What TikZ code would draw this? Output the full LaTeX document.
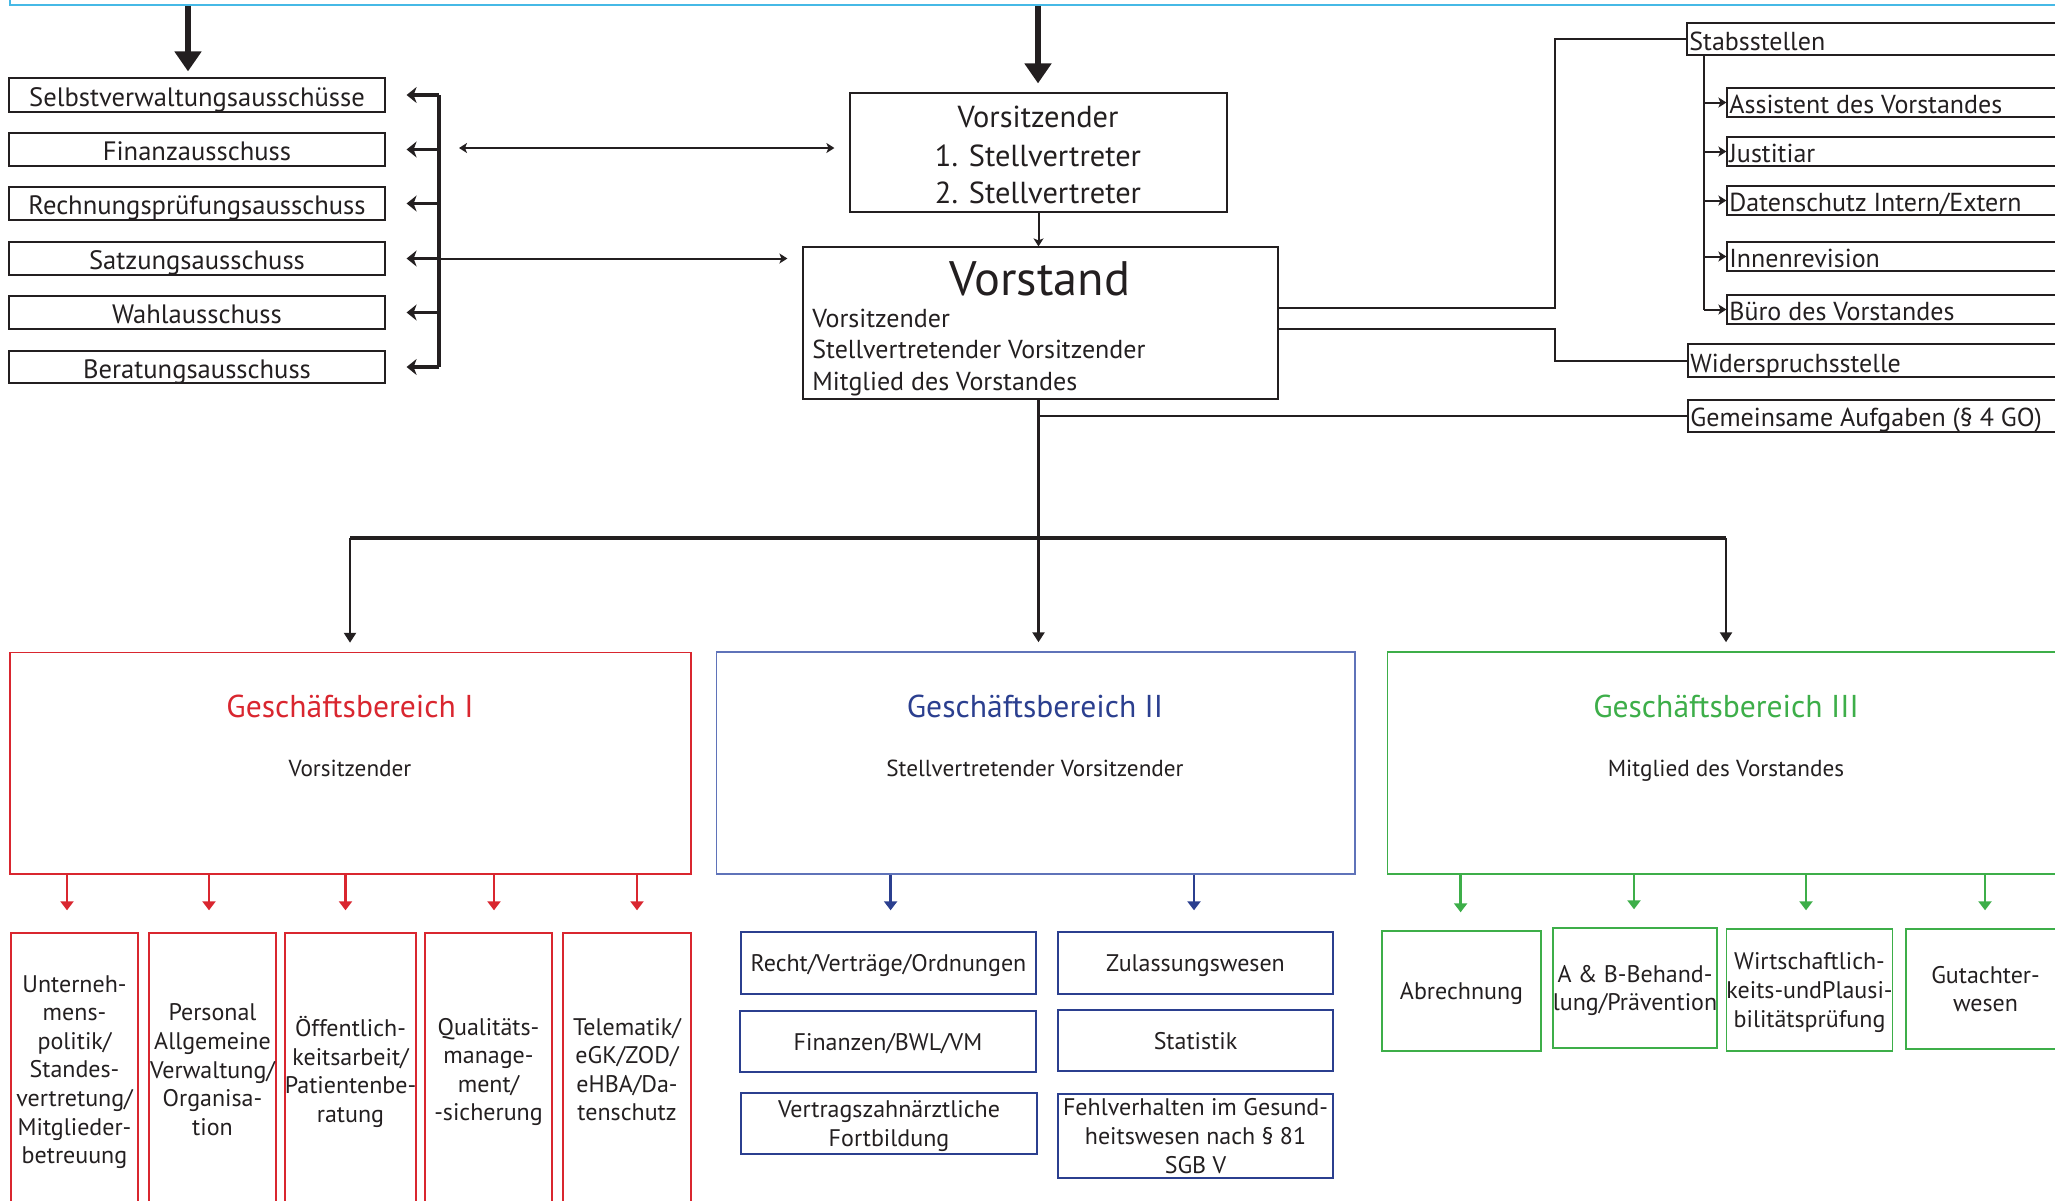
\documentclass[tikz,border=0pt]{standalone}
\usepackage{fontspec}
\setmainfont{PT Sans}
\usetikzlibrary{arrows.meta}
\definecolor{ink}{RGB}{35,31,32}
\definecolor{gbred}{RGB}{217,38,47}
\definecolor{gbblue}{RGB}{43,63,143}
\definecolor{gbbluel}{RGB}{95,115,185}
\definecolor{gbgreen}{RGB}{61,174,73}
\definecolor{frame}{RGB}{70,185,230}
\newcommand\mkbox[7]{\node[#2, minimum width={(#5-#3)*0.5pt}, minimum height={(#6-#4)*0.5pt}] (#1) at ({(#3+#5)/2},{(#4+#6)/2}) {#7};}
\tikzset{
  box/.style={draw=ink, line width=0.6pt, inner sep=0pt, text=ink},
  cbox/.style={box, font=\fontsize{13.3}{15}\selectfont, text height=11pt, text depth=0pt},
  txt/.style={inner sep=0pt, text=ink},
  vzfont/.style={font=\fontsize{15.2}{17}\selectfont},
  vsfont/.style={font=\fontsize{13}{16}\selectfont},
  rfont/.style={font=\fontsize{13}{15}\selectfont},
  gbtitle/.style={inner sep=0pt, font=\fontsize{15.8}{18}\selectfont},
  gbsub/.style={inner sep=0pt, text=ink, font=\fontsize{11.6}{14}\selectfont},
  subtxt/.style={align=center, font=\fontsize{12}{14.3}\selectfont, text=ink, text depth=0pt},
  conn/.style={draw=ink, line width=1pt},
  bigarr/.style={draw=ink, line width=2.6pt, -{Triangle[length=10pt,width=13pt]}},
  brk/.style={draw=ink, line width=1.6pt},
  brkarr/.style={brk, -{Stealth[length=5pt,width=8pt,inset=1.5pt]}},
  thinarr/.style={conn, -{Stealth[length=4pt,width=5pt,inset=1pt]}},
  dblarr/.style={conn, {Stealth[length=4pt,width=5pt,inset=1pt]}-{Stealth[length=4pt,width=5pt,inset=1pt]}},
  busline/.style={draw=ink, line width=2pt},
  mainline/.style={draw=ink, line width=1.3pt},
  busarr/.style={draw=ink, line width=1.3pt, -{Triangle[length=5pt,width=6pt]}},
  colarr/.style={line width=1.2pt, -{Triangle[length=4.5pt,width=6.5pt]}},
}
\begin{document}
\begin{tikzpicture}[x=0.5pt,y=-0.5pt]
\useasboundingbox (0,0) rectangle (2055,1200);
\clip (0,0) rectangle (2055,1200);
% top frame
\mkbox{frame}{draw=frame, line width=0.8pt, inner sep=0pt}{10}{-60}{2100}{5}{}
% committees
\mkbox{c1}{cbox}{9}{78}{385}{112}{Selbstverwaltungsausschüsse}
\mkbox{c2}{cbox}{9}{133}{385}{166}{Finanzausschuss}
\mkbox{c3}{cbox}{9}{187}{385}{220}{Rechnungsprüfungsausschuss}
\mkbox{c4}{cbox}{9}{242}{385}{275}{Satzungsausschuss}
\mkbox{c5}{cbox}{9}{296}{385}{329}{Wahlausschuss}
\mkbox{c6}{cbox}{9}{351}{385}{383}{Beratungsausschuss}
% Vorsitzender box
\mkbox{vz}{box}{850}{93}{1227}{212}{}
\node[txt, vzfont, anchor=base] (vz1) at (1038,127) {Vorsitzender};
\node[txt, vzfont, anchor=base] (vz2) at (1038,166) {1. Stellvertreter};
\node[txt, vzfont, anchor=base] (vz3) at (1038,203) {2. Stellvertreter};
% Vorstand box
\mkbox{vs}{box}{803}{247}{1278}{399}{}
\node[txt, font=\fontsize{24.2}{28}\selectfont, anchor=base] (vst) at (1040,295) {Vorstand};
\node[txt, vsfont, anchor=base west] (vs1) at (812,327) {Vorsitzender};
\node[txt, vsfont, anchor=base west] (vs2) at (812,358) {Stellvertretender Vorsitzender};
\node[txt, vsfont, anchor=base west] (vs3) at (812,390) {Mitglied des Vorstandes};
% right side
\mkbox{st}{box}{1687}{23}{2080}{55}{}
\mkbox{s1}{box}{1727}{88}{2080}{117}{}
\mkbox{s2}{box}{1727}{137}{2080}{166}{}
\mkbox{s3}{box}{1727}{186}{2080}{215}{}
\mkbox{s4}{box}{1727}{242}{2080}{271}{}
\mkbox{s5}{box}{1727}{295}{2080}{324}{}
\mkbox{wi}{box}{1688}{344}{2080}{377}{}
\mkbox{ge}{box}{1688}{400}{2080}{432}{}
\node[txt, rfont, anchor=base west] (stT) at (1689,50) {Stabsstellen};
\node[txt, rfont, anchor=base west] (s1T) at (1729,113) {Assistent des Vorstandes};
\node[txt, rfont, anchor=base west] (s2T) at (1729,162) {Justitiar};
\node[txt, rfont, anchor=base west] (s3T) at (1729,211) {Datenschutz Intern/Extern};
\node[txt, rfont, anchor=base west] (s4T) at (1729,267) {Innenrevision};
\node[txt, rfont, anchor=base west] (s5T) at (1729,320) {Büro des Vorstandes};
\node[txt, rfont, anchor=base west] (wiT) at (1690,372) {Widerspruchsstelle};
\node[txt, rfont, anchor=base west] (geT) at (1690,426) {Gemeinsame Aufgaben (§ 4 GO)};
% Geschaeftsbereiche
\mkbox{g1}{draw=gbred, line width=0.75pt, inner sep=0pt}{10}{652.5}{691}{874}{}
\mkbox{g2}{draw=gbbluel, line width=0.75pt, inner sep=0pt}{716.5}{652}{1355}{874}{}
\mkbox{g3}{draw=gbgreen, line width=0.75pt, inner sep=0pt}{1387.5}{652}{2080}{874}{}
\node[gbtitle, text=gbred, anchor=base] (g1t) at (350,717) {Geschäftsbereich I};
\node[gbsub, anchor=base] (g1s) at (350,776) {Vorsitzender};
\node[gbtitle, text=gbblue, anchor=base] (g2t) at (1035,717) {Geschäftsbereich II};
\node[gbsub, anchor=base] (g2s) at (1035,776) {Stellvertretender Vorsitzender};
\node[gbtitle, text=gbgreen, anchor=base] (g3t) at (1726,717) {Geschäftsbereich III};
\node[gbsub, anchor=base] (g3s) at (1726,776) {Mitglied des Vorstandes};
% red sub boxes
\mkbox{r1}{draw=gbred, line width=0.7pt, inner sep=0pt, subtxt}{11}{933}{138}{1206}{Unterneh-\\mens-\\politik/\\Standes-\\vertretung/\\Mitglieder-\\betreuung}
\mkbox{r2}{draw=gbred, line width=0.7pt, inner sep=0pt, subtxt}{149}{933}{276}{1206}{Personal\\Allgemeine\\Verwaltung/\\Organisa-\\tion}
\mkbox{r3}{draw=gbred, line width=0.7pt, inner sep=0pt, subtxt}{287}{933}{414}{1206}{Öffentlich-\\keitsarbeit/\\Patientenbe-\\ratung}
\mkbox{r4}{draw=gbred, line width=0.7pt, inner sep=0pt, subtxt}{425}{933}{552}{1206}{Qualitäts-\\manage-\\ment/\\-sicherung}
\mkbox{r5}{draw=gbred, line width=0.7pt, inner sep=0pt, subtxt}{563}{933}{691}{1206}{Telematik/\\eGK/ZOD/\\eHBA/Da-\\tenschutz}
% blue sub boxes
\mkbox{b1}{draw=gbblue, line width=0.7pt, inner sep=0pt, subtxt}{741}{932}{1036}{994}{Recht/Verträge/Ordnungen}
\mkbox{b2}{draw=gbblue, line width=0.7pt, inner sep=0pt, subtxt}{1058}{932}{1333}{994}{Zulassungswesen}
\mkbox{b3}{draw=gbblue, line width=0.7pt, inner sep=0pt, subtxt}{740}{1011}{1036}{1072}{Finanzen/BWL/VM}
\mkbox{b4}{draw=gbblue, line width=0.7pt, inner sep=0pt, subtxt}{1058}{1010}{1333}{1071}{Statistik}
\mkbox{b5}{draw=gbblue, line width=0.7pt, inner sep=0pt, subtxt}{741}{1093}{1037}{1154}{Vertragszahnärztliche\\Fortbildung}
\mkbox{b6}{draw=gbblue, line width=0.7pt, inner sep=0pt, subtxt}{1058}{1094}{1333}{1178}{Fehlverhalten im Gesund-\\heitswesen nach § 81\\SGB V}
% green sub boxes
\mkbox{e1}{draw=gbgreen, line width=0.7pt, inner sep=0pt, subtxt}{1382}{931}{1541}{1051}{Abrechnung}
\mkbox{e2}{draw=gbgreen, line width=0.7pt, inner sep=0pt, subtxt}{1555}{928}{1715}{1048}{A \& B-Behand-\\lung/Prävention}
\mkbox{e3}{draw=gbgreen, line width=0.7pt, inner sep=0pt, subtxt}{1730}{929}{1889}{1051}{Wirtschaftlich-\\keits-undPlausi-\\bilitätsprüfung}
\mkbox{e4}{draw=gbgreen, line width=0.7pt, inner sep=0pt, subtxt}{1906}{929}{2065}{1049}{Gutachter-\\wesen}
% ---- connectors ----
\coordinate (a1) at (188,0);
\coordinate (a2) at (1038,0);
\draw[bigarr, shorten >=3pt] (frame.south -| a1) -- (c1.north -| a1);
\draw[bigarr, shorten >=4.5pt] (frame.south -| a2) -- (vz.north -| a2);
\coordinate (bx) at (439,0);
\draw[brk] (bx |- c1.east) -- (bx |- c6.east);
\foreach \cc in {c1,c2,c3,c4,c5,c6} \draw[brkarr, shorten >=10.5pt] (bx |- \cc.east) -- (\cc.east);
\coordinate (dl) at (459,148);
\draw[dblarr, shorten >=7.5pt] (dl) -- (dl -| vz.west);
\draw[thinarr, shorten >=7.5pt] (bx |- c4.east) -- (c4.east -| vs.west);
\draw[thinarr] (vz.south) -- (vz.south |- vs.north);
\coordinate (jx) at (1555,0);
\draw[conn] ([yshift=7.5pt]vs.east) -| (jx |- st.west) -- (st.west);
\draw[conn] ([yshift=-3pt]vs.east) -| (jx |- wi.west) -- (wi.west);
\coordinate (sx) at (1703.5,0);
\draw[conn] (sx |- st.south) -- (sx |- s5.west);
\foreach \ss in {s1,s2,s3,s4,s5} \draw[thinarr] (sx |- \ss.west) -- (\ss.west);
\draw[conn] (vz.south |- ge.west) -- (ge.west);
\coordinate (busL) at (350,538);
\coordinate (busR) at (1726,538);
\draw[mainline] (vz.south |- vs.south) -- (vz.south |- busL);
\draw[busline] (busL) -- (busR);
\draw[busarr, shorten >=4.5pt] (busL) -- (busL |- g1.north);
\draw[busarr, shorten >=4.5pt] (vz.south |- busL) -- (vz.south |- g2.north);
\draw[busarr, shorten >=4.5pt] (busR) -- (busR |- g3.north);
% coloured arrows
\foreach \xx/\bb in {67/r1,209/r2,345.5/r3,494/r4,637/r5}
  \draw[colarr, draw=gbred, fill=gbred, shorten >=11pt] (g1.south -| \xx,0) -- (\bb.north -| \xx,0);
\foreach \xx/\bb in {890.6/b1,1194/b2}
  \draw[colarr, draw=gbblue, fill=gbblue, shorten >=10.5pt] (g2.south -| \xx,0) -- (\bb.north -| \xx,0);
\foreach \xx/\bb in {1460.6/e1,1634/e2,1806/e3,1985/e4}
  \draw[colarr, draw=gbgreen, fill=gbgreen, shorten >=9pt] (g3.south -| \xx,0) -- (\bb.north -| \xx,0);
\end{tikzpicture}
\end{document}
